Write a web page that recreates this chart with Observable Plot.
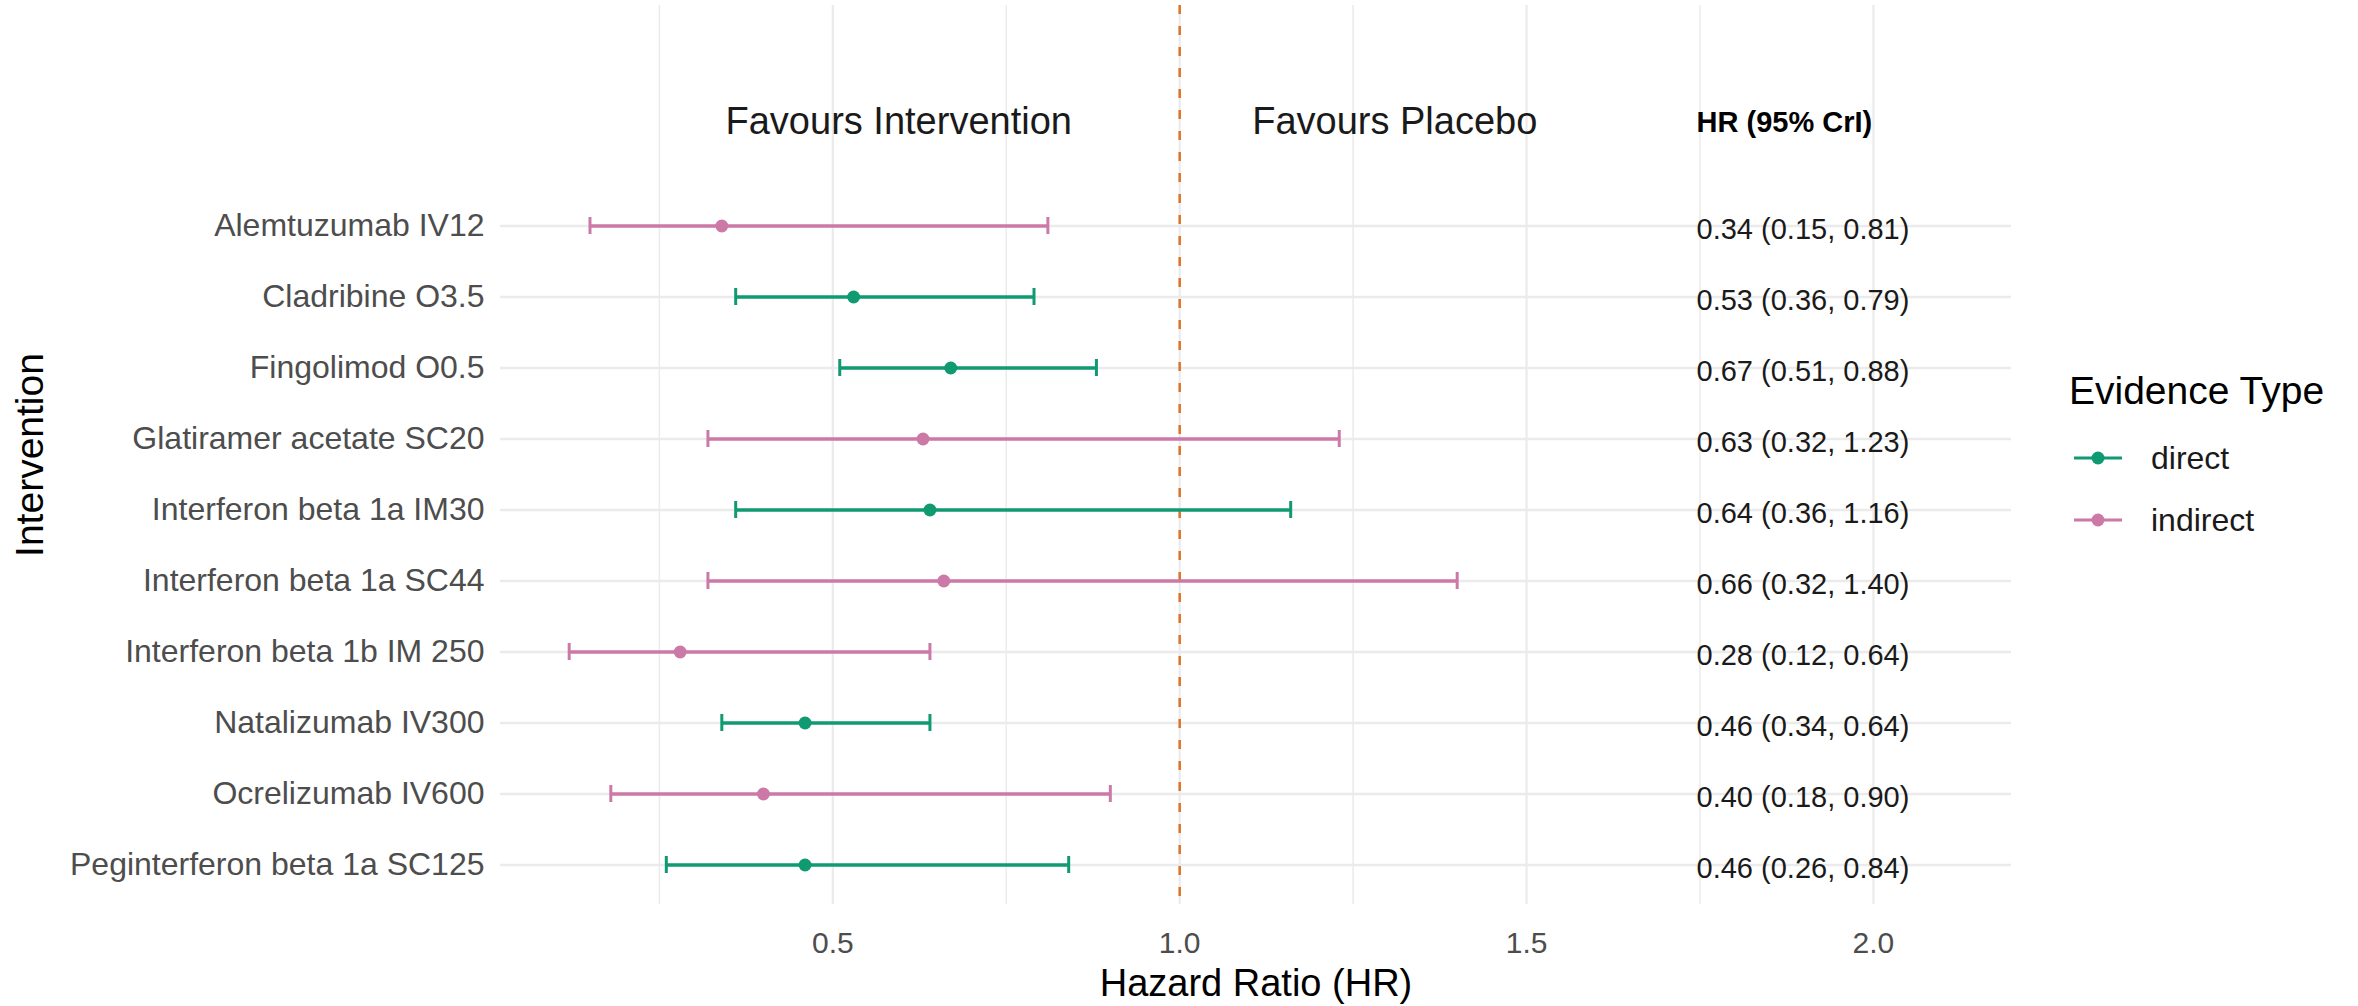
<!DOCTYPE html>
<html>
<head>
<meta charset="utf-8">
<script src="https://cdn.jsdelivr.net/npm/d3@7"></script>
<script src="https://cdn.jsdelivr.net/npm/@observablehq/plot@0.6"></script>
<style>
  body { margin: 0; background: #fff; font-family: "Liberation Sans", Arial, sans-serif; }
  #wrap { position: relative; width: 2358px; height: 1006px; background: #fff; overflow: hidden; }
  #chart { position: absolute; left: 0; top: 0; }
  .leg { position: absolute; transform: translateY(-50%); line-height: 1; white-space: nowrap; }
  .leg-title { font-size: 39px; color: #000; }
  .leg-item { display: flex; align-items: center; font-size: 32px; color: #1a1a1a; }
  .leg-item svg { margin-right: 29px; }
</style>
</head>
<body>
<div id="wrap">
  <div id="chart"></div>
</div>
<script>
// ---- data ----
const interventions = [
  "Alemtuzumab IV12",
  "Cladribine O3.5",
  "Fingolimod O0.5",
  "Glatiramer acetate SC20",
  "Interferon beta 1a IM30",
  "Interferon beta 1a SC44",
  "Interferon beta 1b IM 250",
  "Natalizumab IV300",
  "Ocrelizumab IV600",
  "Peginterferon beta 1a SC125"
];
const hrValues = [0.34, 0.53, 0.67, 0.63, 0.64, 0.66, 0.28, 0.46, 0.40, 0.46];
const lowerCrI = [0.15, 0.36, 0.51, 0.32, 0.36, 0.32, 0.12, 0.34, 0.18, 0.26];
const upperCrI = [0.81, 0.79, 0.88, 1.23, 1.16, 1.40, 0.64, 0.64, 0.90, 0.84];
const evidence = ["indirect", "direct", "direct", "indirect", "direct", "indirect", "indirect", "direct", "indirect", "direct"];
const evidenceTypes = ["direct", "indirect"];
const xTickValues = [0.5, 1.0, 1.5, 2.0];
const xMinorValues = [0.25, 0.75, 1.25, 1.75];
const favourLabels = ["Favours Intervention", "Favours Placebo"];
const headerLabel = "HR (95% CrI)";

// ---- settings ----
const palette = ["#109A72", "#CC79A7"];
const refLineColor = "#DD7327";
const gridColor = "#EBEBEB";
const xDomain = [0.021, 2.199];
const favourX = [0.595, 1.31];
const labelColumnX = 1.745;
const f2 = d3.format(".2f");

const rows = interventions.map((name, i) => ({
  name,
  hr: hrValues[i],
  lower: lowerCrI[i],
  upper: upperCrI[i],
  type: evidence[i],
  label: `${f2(hrValues[i])} (${f2(lowerCrI[i])}, ${f2(upperCrI[i])})`
}));
const favours = favourLabels.map((t, i) => ({text: t, x: favourX[i]}));

const chart = Plot.plot({
  width: 2040,
  height: 1006,
  marginLeft: 500,
  marginRight: 29,
  marginTop: 5,
  marginBottom: 102,
  style: {fontFamily: "Liberation Sans, Arial, sans-serif", background: "white", overflow: "visible"},
  x: {type: "linear", domain: xDomain},
  y: {type: "band", domain: interventions, padding: 0, insetTop: 181},
  color: {domain: evidenceTypes, range: palette},
  marks: [
    Plot.ruleX(xMinorValues, {stroke: gridColor, strokeWidth: 1.5}),
    Plot.ruleX(xTickValues, {stroke: gridColor, strokeWidth: 2.2}),
    Plot.ruleY(rows, {y: "name", stroke: gridColor, strokeWidth: 2.5}),
    Plot.ruleX([1], {stroke: refLineColor, strokeWidth: 2.5, strokeDasharray: "9,12"}),
    Plot.ruleY(rows, {y: "name", x1: "lower", x2: "upper", stroke: "type", strokeWidth: 3.5}),
    Plot.tickX(rows, {x: "lower", y: "name", stroke: "type", strokeWidth: 3, insetTop: 27, insetBottom: 27}),
    Plot.tickX(rows, {x: "upper", y: "name", stroke: "type", strokeWidth: 3, insetTop: 27, insetBottom: 27}),
    Plot.dot(rows, {x: "hr", y: "name", fill: "type", r: 6.5}),
    Plot.text(rows, {x: () => labelColumnX, y: "name", text: "label", textAnchor: "start", fontSize: 29, fill: "#1a1a1a", dy: 4}),
    Plot.text(favours, {x: "x", text: "text", frameAnchor: "top", lineAnchor: "middle", textAnchor: "middle", dy: 116, fontSize: 38, fill: "#1a1a1a"}),
    Plot.text([headerLabel], {x: () => labelColumnX, text: d => d, frameAnchor: "top", lineAnchor: "middle", dy: 117, textAnchor: "start", fontSize: 29, fontWeight: "bold", fill: "#000"}),
    Plot.axisX(xTickValues, {tickSize: 0, tickPadding: 27, tickFormat: d3.format(".1f"), fontSize: 30, color: "#4D4D4D", label: null}),
    Plot.axisY({tickSize: 0, tickPadding: 16, fontSize: 32, color: "#4D4D4D", label: null}),
    Plot.text(["Hazard Ratio (HR)"], {text: d => d, frameAnchor: "bottom", lineAnchor: "middle", textAnchor: "middle", dy: 79, fontSize: 38, fill: "#000"}),
    Plot.text(["Intervention"], {text: d => d, frameAnchor: "left", lineAnchor: "middle", textAnchor: "middle", dx: -470, rotate: -90, fontSize: 39, fill: "#000"})
  ]
});
document.getElementById("chart").appendChild(chart);

// ---- legend (HTML, right of the plot) ----
const wrap = document.getElementById("wrap");
const title = document.createElement("div");
title.className = "leg leg-title";
title.style.left = "2069px";
title.style.top = "390px";
title.textContent = "Evidence Type";
wrap.appendChild(title);
const legendTops = [458, 520];
evidenceTypes.forEach((t, i) => {
  const item = document.createElement("div");
  item.className = "leg leg-item";
  item.style.left = "2074px";
  item.style.top = legendTops[i] + "px";
  const svg = d3.create("svg").attr("width", 48).attr("height", 20);
  svg.append("line").attr("x1", 0).attr("x2", 48).attr("y1", 10).attr("y2", 10)
    .attr("stroke", palette[i]).attr("stroke-width", 3);
  svg.append("circle").attr("cx", 24).attr("cy", 10).attr("r", 6.5).attr("fill", palette[i]);
  item.appendChild(svg.node());
  const span = document.createElement("span");
  span.textContent = t;
  item.appendChild(span);
  wrap.appendChild(item);
});
</script>
</body>
</html>
